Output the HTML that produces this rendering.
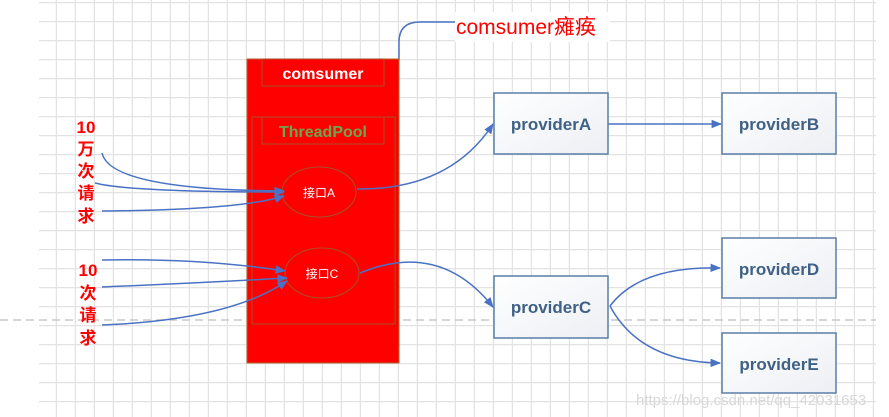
<!DOCTYPE html>
<html><head><meta charset="utf-8"><style>
body{margin:0;background:#fff;}
svg{display:block;font-family:"Liberation Sans","Noto Sans CJK SC",sans-serif;}
</style></head><body>
<svg width="889" height="417" viewBox="0 0 889 417">
<defs>
<pattern id="g" x="0" y="2" width="19" height="19" patternUnits="userSpaceOnUse">
<path d="M0 0.5H19M18.5 0V19" stroke="#e3e3e3" stroke-width="1.5" fill="none"/>
</pattern>
<linearGradient id="bx" x1="0" y1="0" x2="1" y2="1"><stop offset="0" stop-color="#fff"/><stop offset="1" stop-color="#eceff4"/></linearGradient>
<marker id="ar" viewBox="0 0 10 10" refX="9" refY="5" markerWidth="7" markerHeight="7" orient="auto"><path d="M0 1L10 5L0 9z" fill="#4a72c4"/></marker>
</defs>
<rect x="39" y="0" width="837" height="417" fill="url(#g)"/>
<line x1="0" y1="320" x2="876" y2="320" stroke="#c8c8c8" stroke-width="1.5" stroke-dasharray="8,5"/>
<rect x="455" y="12" width="155" height="30" fill="#fff"/>
<text x="456" y="34" font-size="21" fill="#ff0000">comsumer瘫痪</text>
<path d="M399 60V42Q399 22 420 22H455" stroke="#4a72c4" stroke-width="1.5" fill="none"/>
<rect x="247" y="59" width="152" height="304" fill="#ff0000" stroke="#a86a2a"/>
<rect x="262" y="59" width="122" height="27" fill="none" stroke="#a8502a"/>
<text x="323" y="79" font-size="16" font-weight="bold" fill="#fff" text-anchor="middle">comsumer</text>
<rect x="252" y="117" width="143" height="207" fill="none" stroke="#a8502a"/>
<rect x="262" y="117" width="122" height="27" fill="none" stroke="#a8502a"/>
<text x="323" y="137" font-size="16" font-weight="bold" fill="#6aa84f" text-anchor="middle">ThreadPool</text>
<ellipse cx="319" cy="192" rx="37" ry="25" fill="#ff0000" stroke="#a8502a"/>
<text x="319" y="197" font-size="12" fill="#fff" text-anchor="middle">接口A</text>
<ellipse cx="322" cy="273" rx="37" ry="25" fill="#ff0000" stroke="#a8502a"/>
<text x="322" y="278" font-size="12" fill="#fff" text-anchor="middle">接口C</text>
<g font-size="17" font-weight="bold" fill="#ff0000" text-anchor="middle">
<text x="86" y="133">10</text><text x="86" y="155">万</text><text x="86" y="177">次</text><text x="86" y="199">请</text><text x="86" y="222">求</text>
<text x="88" y="276">10</text><text x="88" y="299">次</text><text x="88" y="321">请</text><text x="88" y="344">求</text>
</g>
<g stroke="#4a72c4" stroke-width="1.5" fill="none" marker-end="url(#ar)">
<path d="M102 153Q110 190 284 191"/>
<path d="M95 183Q130 192 284 192"/>
<path d="M102 211Q240 210 284 196"/>
<path d="M102 260Q200 258 285 271"/>
<path d="M102 287Q200 283 287 278"/>
<path d="M102 325Q230 320 287 281"/>
<path d="M357 189Q450 190 493 124"/>
<path d="M360 273Q440 240 493 307"/>
<path d="M608 124H721"/>
<path d="M610 306Q640 266 720 268"/>
<path d="M610 306Q640 362 720 363"/>
</g>
<g stroke="#5a7ea6" stroke-width="1.5" fill="url(#bx)">
<rect x="494" y="93" width="114" height="61"/>
<rect x="722" y="93" width="114" height="61"/>
<rect x="722" y="238" width="114" height="60"/>
<rect x="722" y="333" width="114" height="60"/>
<rect x="494" y="276" width="114" height="62"/>
</g>
<g font-size="17" font-weight="bold" fill="#3f6186" text-anchor="middle">
<text x="551" y="130">providerA</text>
<text x="779" y="130">providerB</text>
<text x="779" y="275">providerD</text>
<text x="779" y="370">providerE</text>
<text x="551" y="313">providerC</text>
</g>
<text x="636" y="405" font-size="15" fill="#d8d8d8">https://blog.csdn.net/qq_42031653</text>
</svg>
</body></html>
